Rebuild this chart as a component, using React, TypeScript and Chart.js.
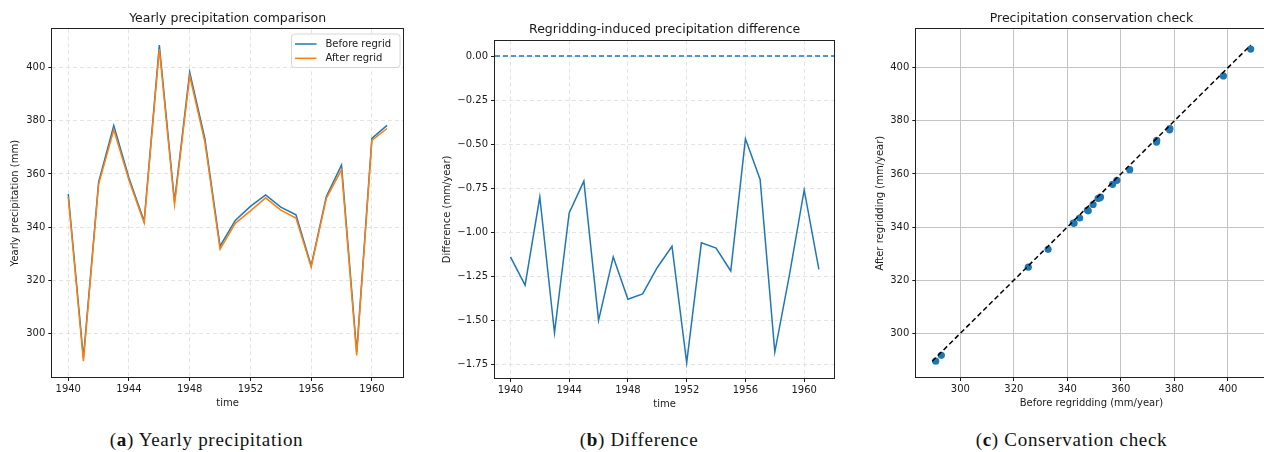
import React, { useEffect, useRef } from "react";
import { Chart, registerables } from "chart.js";

Chart.register(...registerables);

// ---------- data ----------
const YEARS = [1940, 1941, 1942, 1943, 1944, 1945, 1946, 1947, 1948, 1949, 1950, 1951, 1952, 1953, 1954, 1955, 1956, 1957, 1958, 1959, 1960, 1961];
const BEFORE = [352.4, 290.8, 356.9, 378.2, 358.5, 342.2, 408.5, 349.6, 398.3, 373.3, 332.8, 342.5, 347.8, 352.1, 347.5, 344.6, 325.4, 351.5, 363.3, 292.9, 373.4, 378.3];
const AFTER = [351.3, 289.5, 356.1, 376.6, 357.6, 341.5, 407.0, 348.5, 396.9, 372.0, 331.6, 341.4, 346.1, 351.0, 346.4, 343.4, 324.9, 350.8, 361.6, 291.7, 372.6, 377.1];
const DIFF = [-1.14, -1.30, -0.80, -1.57, -0.89, -0.71, -1.50, -1.14, -1.38, -1.35, -1.20, -1.08, -1.74, -1.06, -1.09, -1.22, -0.47, -0.70, -1.68, -1.24, -0.76, -1.21];

const YEAR_TICKS = [1940, 1944, 1948, 1952, 1956, 1960];
const PRECIP_TICKS = [300, 320, 340, 360, 380, 400];
const DIFF_TICKS = [0, -0.25, -0.5, -0.75, -1.0, -1.25, -1.5, -1.75];

const TITLES = ["Yearly precipitation comparison", "Regridding-induced precipitation difference", "Precipitation conservation check"];
const LEGEND_LABELS = ["Before regrid", "After regrid"];
const CAPTIONS = [
  { tag: "a", text: "Yearly precipitation" },
  { tag: "b", text: "Difference" },
  { tag: "c", text: "Conservation check" },
];

// ---------- style ----------
const C0 = "#1f77b4";
const C1 = "#ff7f0e";
const FONT = "'DejaVu Sans', sans-serif";
const TXT = "#1a1a1a";
const LIGHT_GRID = "#e3e3e3";
const SOLID_GRID = "#c4c4c4";

const pad = (lo: number, hi: number) => {
  const r = hi - lo;
  return [lo - 0.05 * r, hi + 0.05 * r];
};

function axis(o: {
  ticks: number[];
  min: number;
  max: number;
  title: string;
  size: number;
  horizontal: boolean;
  fmt: (v: number) => string;
  gridColor: string;
  dash: number[];
  titlePad: any;
}) {
  return {
    type: "linear",
    min: o.min,
    max: o.max,
    afterBuildTicks: (s: any) => {
      s.ticks = o.ticks.map((v) => ({ value: v }));
    },
    afterFit: (s: any) => {
      if (o.horizontal) s.height = o.size;
      else s.width = o.size;
    },
    ticks: {
      autoSkip: false,
      maxRotation: 0,
      padding: o.horizontal ? 2 : 3,
      color: TXT,
      font: { family: FONT, size: 10 },
      callback: (v: any) => o.fmt(Number(v)),
    },
    grid: {
      color: o.gridColor,
      lineWidth: 1,
      tickColor: TXT,
      tickLength: 4,
      tickBorderDash: [],
      tickWidth: 1,
    },
    border: { display: false, dash: o.dash },
    title: {
      display: true,
      text: o.title,
      color: TXT,
      font: { family: FONT, size: 10 },
      padding: o.titlePad,
    },
  };
}

const framePlugin = {
  id: "frame",
  afterDraw(chart: any) {
    const { ctx, chartArea: a } = chart;
    ctx.save();
    ctx.strokeStyle = "#222";
    ctx.lineWidth = 1;
    ctx.strokeRect(Math.round(a.left) - 0.5, Math.round(a.top) - 0.5, Math.round(a.right - a.left) + 1, Math.round(a.bottom - a.top) + 1);
    ctx.restore();
  },
};

const titlePlugin = (text: string, y: number) => ({
  id: "mpltitle",
  afterDraw(chart: any) {
    const { ctx, chartArea: a } = chart;
    ctx.save();
    ctx.fillStyle = TXT;
    ctx.font = `12.5px ${FONT}`;
    ctx.textAlign = "center";
    ctx.textBaseline = "middle";
    ctx.fillText(text, (a.left + a.right) / 2, y);
    ctx.restore();
  },
});

const legendPlugin = {
  id: "mpllegend",
  afterDraw(chart: any) {
    const { ctx } = chart;
    const x0 = 291.5, y0 = 34, x1 = 400, y1 = 67.5, r = 3;
    ctx.save();
    ctx.beginPath();
    ctx.moveTo(x0 + r, y0);
    ctx.arcTo(x1, y0, x1, y1, r);
    ctx.arcTo(x1, y1, x0, y1, r);
    ctx.arcTo(x0, y1, x0, y0, r);
    ctx.arcTo(x0, y0, x1, y0, r);
    ctx.closePath();
    ctx.fillStyle = "rgba(255,255,255,0.85)";
    ctx.fill();
    ctx.strokeStyle = "#d6d6d6";
    ctx.lineWidth = 1;
    ctx.stroke();
    const rows = [
      { y: 44, c: C0, t: LEGEND_LABELS[0] },
      { y: 58.3, c: C1, t: LEGEND_LABELS[1] },
    ];
    ctx.font = `10px ${FONT}`;
    ctx.textBaseline = "middle";
    ctx.textAlign = "left";
    for (const row of rows) {
      ctx.strokeStyle = row.c;
      ctx.lineWidth = 1.5;
      ctx.beginPath();
      ctx.moveTo(295, row.y);
      ctx.lineTo(316.5, row.y);
      ctx.stroke();
      ctx.fillStyle = TXT;
      ctx.fillText(row.t, 325.5, row.y);
    }
    ctx.restore();
  },
};

const zeroLinePlugin = {
  id: "zeroline",
  afterDatasetsDraw(chart: any) {
    const { ctx, chartArea: a, scales } = chart;
    const y = scales.y.getPixelForValue(0);
    ctx.save();
    ctx.strokeStyle = C0;
    ctx.lineWidth = 1.5;
    ctx.setLineDash([5, 3]);
    ctx.beginPath();
    ctx.moveTo(a.left, y);
    ctx.lineTo(a.right, y);
    ctx.stroke();
    ctx.restore();
  },
};

function makeConfigA(): any {
  const [xmin, xmax] = pad(YEARS[0], YEARS[YEARS.length - 1]);
  const [ymin, ymax] = pad(Math.min(...BEFORE, ...AFTER), Math.max(...BEFORE, ...AFTER));
  return {
    type: "line",
    data: {
      datasets: [
        { data: YEARS.map((x, i) => ({ x, y: AFTER[i] })), borderColor: C1, borderWidth: 1.5, pointRadius: 0, tension: 0 },
        { data: YEARS.map((x, i) => ({ x, y: BEFORE[i] })), borderColor: C0, borderWidth: 1.5, pointRadius: 0, tension: 0 },
      ],
    },
    options: {
      animation: false,
      responsive: false,
      devicePixelRatio: 1,
      layout: { padding: { top: 29.3, right: 17, left: 0, bottom: 0 } },
      plugins: { legend: { display: false }, tooltip: { enabled: false } },
      scales: {
        x: axis({ ticks: YEAR_TICKS, min: xmin, max: xmax, title: "time", size: 43, horizontal: true, fmt: (v) => String(v), gridColor: LIGHT_GRID, dash: [4, 3], titlePad: { top: 0, bottom: 11 } }),
        y: axis({ ticks: PRECIP_TICKS, min: ymin, max: ymax, title: "Yearly precipitation (mm)", size: 52.3, horizontal: false, fmt: (v) => String(v), gridColor: LIGHT_GRID, dash: [4, 3], titlePad: { top: 9.7, bottom: 0 } }),
      },
    },
    plugins: [framePlugin, titlePlugin(TITLES[0], 19), legendPlugin],
  };
}

function makeConfigB(): any {
  const [xmin, xmax] = pad(YEARS[0], YEARS[YEARS.length - 1]);
  const [ymin, ymax] = pad(Math.min(...DIFF, 0), Math.max(...DIFF, 0));
  const fmt = (v: number) => {
    const s = Math.abs(v).toFixed(2);
    return v < -1e-9 ? "\u2212" + s : s;
  };
  return {
    type: "line",
    data: {
      datasets: [{ data: YEARS.map((x, i) => ({ x, y: DIFF[i] })), borderColor: C0, borderWidth: 1.5, pointRadius: 0, tension: 0 }],
    },
    options: {
      animation: false,
      responsive: false,
      devicePixelRatio: 1,
      layout: { padding: { top: 40.7, right: 5.7, left: 0, bottom: 0 } },
      plugins: { legend: { display: false }, tooltip: { enabled: false } },
      scales: {
        x: axis({ ticks: YEAR_TICKS, min: xmin, max: xmax, title: "time", size: 42, horizontal: true, fmt: (v) => String(v), gridColor: LIGHT_GRID, dash: [4, 3], titlePad: { top: 0, bottom: 10 } }),
        y: axis({ ticks: DIFF_TICKS, min: ymin, max: ymax, title: "Difference (mm/year)", size: 75, horizontal: false, fmt, gridColor: LIGHT_GRID, dash: [4, 3], titlePad: { top: 21.3, bottom: 0 } }),
      },
    },
    plugins: [zeroLinePlugin, framePlugin, titlePlugin(TITLES[1], 30)],
  };
}

function makeConfigC(): any {
  const lo = Math.min(...BEFORE, ...AFTER);
  const hi = Math.max(...BEFORE, ...AFTER);
  const [xmin, xmax] = pad(lo, hi);
  const [ymin, ymax] = pad(lo, hi);
  return {
    type: "scatter",
    data: {
      datasets: [
        { type: "line", data: [{ x: lo, y: lo }, { x: hi, y: hi }], borderColor: "#000", borderWidth: 1.5, borderDash: [5, 3], pointRadius: 0, showLine: true },
        {
          data: BEFORE.map((x, i) => ({ x, y: AFTER[i] })),
          backgroundColor: C0,
          pointBackgroundColor: C0,
          pointBorderWidth: 0,
          pointBorderColor: "rgba(0,0,0,0)",
          borderWidth: 0,
          pointRadius: 3.6,
        },
      ],
    },
    options: {
      animation: false,
      responsive: false,
      devicePixelRatio: 1,
      layout: { padding: { top: 29.3, right: 13.4, left: 0, bottom: 0 } },
      plugins: { legend: { display: false }, tooltip: { enabled: false } },
      scales: {
        x: axis({ ticks: PRECIP_TICKS, min: xmin, max: xmax, title: "Before regridding (mm/year)", size: 43, horizontal: true, fmt: (v) => String(v), gridColor: SOLID_GRID, dash: [], titlePad: { top: 0, bottom: 11 } }),
        y: axis({ ticks: PRECIP_TICKS, min: ymin, max: ymax, title: "After regridding (mm/year)", size: 76.3, horizontal: false, fmt: (v) => String(v), gridColor: SOLID_GRID, dash: [], titlePad: { top: 34, bottom: 0 } }),
      },
    },
    plugins: [framePlugin, titlePlugin(TITLES[2], 19)],
  };
}

function ChartBox(props: { left: number; width: number; height: number; make: () => any }) {
  const ref = useRef<HTMLCanvasElement | null>(null);
  useEffect(() => {
    if (!ref.current) return;
    const chart = new Chart(ref.current, props.make());
    return () => chart.destroy();
  }, []);
  return (
    <canvas
      ref={ref}
      width={props.width}
      height={props.height}
      style={{ position: "absolute", left: props.left, top: 0, width: props.width, height: props.height }}
    />
  );
}

const CAPTION_CENTERS = [206.5, 639, 1071.5];

export default function App() {
  return (
    <div style={{ position: "fixed", left: 0, top: 0, width: 1264, height: 452, overflow: "hidden", background: "#fff" }}>
      <ChartBox left={0} width={420} height={420} make={makeConfigA} />
      <ChartBox left={420} width={420} height={420} make={makeConfigB} />
      <ChartBox left={840} width={440} height={420} make={makeConfigC} />
      {CAPTIONS.map((c, i) => (
        <div
          key={c.tag}
          style={{
            position: "absolute",
            left: CAPTION_CENTERS[i] - 200,
            width: 400,
            top: 429,
            height: 22,
            lineHeight: "22px",
            textAlign: "center",
            fontFamily: "'Liberation Serif', serif",
            fontSize: 19,
            letterSpacing: "0.7px",
            color: "#111",
            whiteSpace: "nowrap",
          }}
        >
          (<b>{c.tag}</b>) {c.text}
        </div>
      ))}
    </div>
  );
}
